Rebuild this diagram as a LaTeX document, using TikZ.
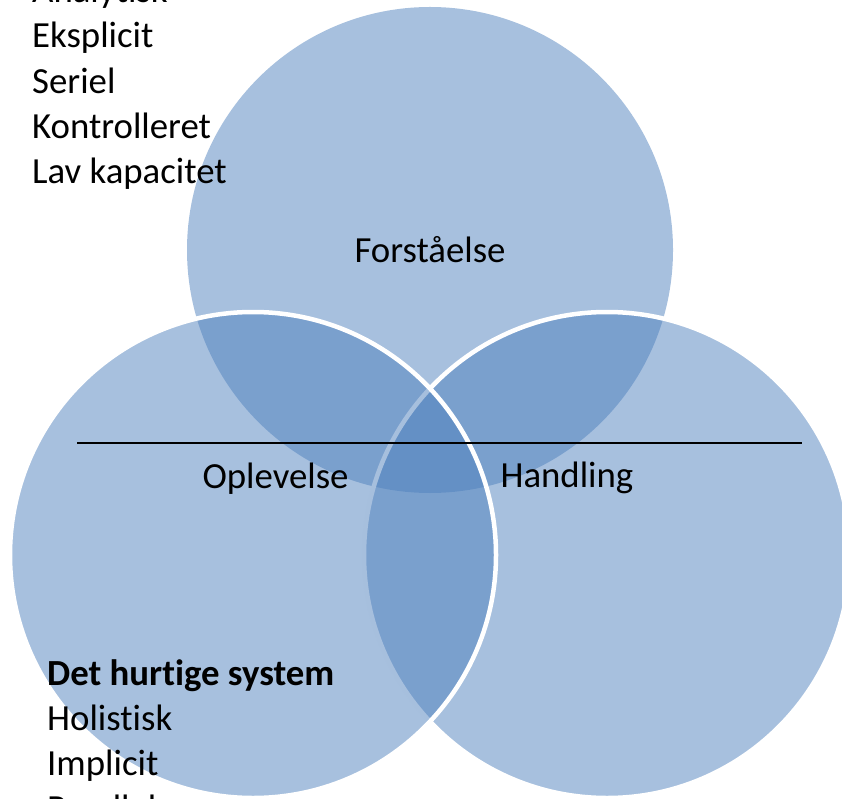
\documentclass[tikz,border=0pt]{standalone}
\usepackage{fontspec}
\setmainfont[Ligatures={NoCommon}]{Carlito}
\definecolor{vblue}{HTML}{4F81BD}
\begin{document}
\begin{tikzpicture}[x=1pt,y=-1pt,
  venn/.style={circle, minimum size=486pt, inner sep=0pt, outer sep=0pt, fill=vblue, fill opacity=0.5},
  vennedge/.style={venn, draw=white, line width=4.5pt, draw opacity=1},
  lbl/.style={font=\fontsize{36.8}{44}\selectfont, inner sep=0pt, anchor=base west},
  ctr/.style={font=\fontsize{36.8}{44}\selectfont, inner sep=0pt, anchor=base}]
\useasboundingbox (0,0) rectangle (842,799);
\clip (0,0) rectangle (842,799);
% circles
\node[venn] (forst) at (430,250) {};
\node[vennedge] (hand) at (607,555) {};
\node[vennedge] (oplev) at (253,555) {};
% divider
\coordinate (lineL) at (77,443);
\coordinate (lineR) at (802,443);
\draw[black, line width=1.8pt] (lineL) -- (lineR);
% labels in circles
\node[ctr] (tF) at (430,262) {Forståelse};
\node[ctr] (tO) at (275.5,488) {Oplevelse};
\node[ctr] (tH) at (567,487) {Handling};
% slow system list (top)
\node[lbl] (s0) at (32,2.5) {Analytisk};
\node[lbl] (s1) at (32,47.8) {Eksplicit};
\node[lbl] (s2) at (32,93.1) {Seriel};
\node[lbl] (s3) at (32,138.4) {Kontrolleret};
\node[lbl] (s4) at (32,183.7) {Lav kapacitet};
% fast system list (bottom)
\node[lbl, font=\fontsize{36.8}{44}\selectfont\bfseries] (f0) at (47,685) {Det hurtige system};
\node[lbl] (f1) at (47,730.3) {Holistisk};
\node[lbl] (f2) at (47,775.6) {Implicit};
\node[lbl] (f3) at (47,820.9) {Parallel};
\end{tikzpicture}
\end{document}
